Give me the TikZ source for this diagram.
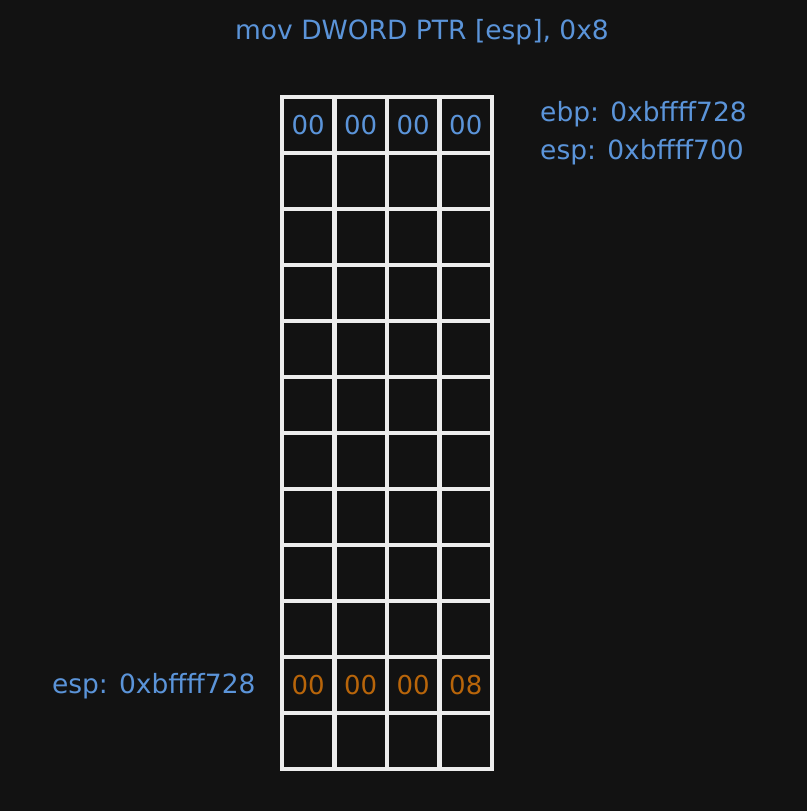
\documentclass[tikz,border=0pt]{standalone}
\usepackage{fontspec}
\setmainfont{DejaVu Sans}
\usetikzlibrary{positioning}
\definecolor{bgdark}{HTML}{121212}
\definecolor{regblue}{HTML}{5B94D9}
\definecolor{valorange}{HTML}{B8650A}
\definecolor{cellline}{HTML}{EDEDED}

\begin{document}
\begin{tikzpicture}[
  x=1pt, y=1pt,
  cell/.style={draw=cellline, line width=4.5pt, minimum width=52.5pt, minimum height=56pt, inner sep=0pt, font=\fontsize{26}{30}\selectfont},
  regtext/.style={text=regblue, font=\fontsize{26.5}{30}\selectfont, inner sep=0pt},
  valtext/.style={text=valorange}
]
\fill[bgdark] (0,0) rectangle (807,811);
\useasboundingbox (0,0) rectangle (807,811);

% stack cells, 12 rows of 4 bytes
\foreach \r in {1,...,12} {
  \foreach \c in {1,...,4} {
    \node[cell] (c-\r-\c) at ({282+52.5*(\c-0.5)}, {811-(97+56*(\r-0.5))}) {};
  }
}

% top word
\foreach \c in {1,...,4}
  \node[text=regblue, font=\fontsize{26}{30}\selectfont] at (c-1-\c) {00};

% word written by the mov
\node[valtext, font=\fontsize{26}{30}\selectfont] at (c-11-1) {00};
\node[valtext, font=\fontsize{26}{30}\selectfont] at (c-11-2) {00};
\node[valtext, font=\fontsize{26}{30}\selectfont] at (c-11-3) {00};
\node[valtext, font=\fontsize{26}{30}\selectfont] at (c-11-4) {08};

\node[regtext] (title) at (422,779) {mov DWORD PTR [esp], 0x8};
\node[regtext, anchor=west] (ebp) at (540,697) {ebp: 0xbffff728};
\node[regtext, anchor=west] (espold) at (540,659) {esp: 0xbffff700};
\node[regtext, left=24pt of c-11-1, yshift=-1pt] (espnew) {esp: 0xbffff728};
\end{tikzpicture}
\end{document}
